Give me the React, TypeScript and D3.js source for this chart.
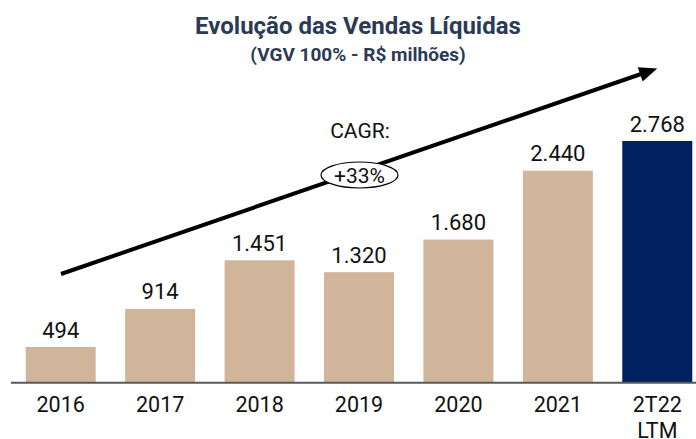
import React from "react";
import * as d3 from "d3";

const categories = ["2016", "2017", "2018", "2019", "2020", "2021", "2T22|LTM"];
const values = [494, 914, 1451, 1320, 1680, 2440, 2768];
const highlight = [false, false, false, false, false, false, true];
const titleText = "Evolução das Vendas Líquidas";
const subtitleText = "(VGV 100% - R$ milhões)";
const cagrLabel = "CAGR:";
const cagrValue = "+33%";

const W = 696;
const H = 439;
const FONT = "Roboto, 'Noto Sans', sans-serif";

const fmt = d3.formatLocale({ decimal: ",", thousands: ".", grouping: [3], currency: ["R$", ""] }).format(",d");

export default function App() {
  const baseY = 382.7;
  const x = d3
    .scaleBand<string>()
    .domain(categories)
    .range([11, 707])
    .paddingInner(0.296)
    .paddingOuter(0.148);
  const y = d3.scaleLinear().domain([100, 2768]).range([baseY, 141]);

  const arrowStart: [number, number] = [61, 274];
  const arrowEnd: [number, number] = [644, 73];
  const ang = Math.atan2(arrowEnd[1] - arrowStart[1], arrowEnd[0] - arrowStart[0]);
  const tip: [number, number] = [arrowEnd[0] + 14 * Math.cos(ang), arrowEnd[1] + 14 * Math.sin(ang)];
  const perp = ang + Math.PI / 2;
  const hw = 7.5;
  const back: [number, number] = [arrowEnd[0] - 4 * Math.cos(ang), arrowEnd[1] - 4 * Math.sin(ang)];
  const headPts = [
    tip,
    [back[0] + hw * Math.cos(perp), back[1] + hw * Math.sin(perp)],
    [back[0] - hw * Math.cos(perp), back[1] - hw * Math.sin(perp)],
  ];

  return (
    <svg width={W} height={H} style={{ position: "absolute", left: 0, top: 0, background: "#fff" }} fontFamily={FONT}>
      <rect x={0} y={0} width={W} height={H} fill="#fff" />
      <text x={358} y={34} textAnchor="middle" fontSize={24} fontWeight="bold" fill="#2B3A55">
        {titleText}
      </text>
      <text x={358} y={61} textAnchor="middle" fontSize={19} fontWeight="bold" fill="#2B3A55">
        {subtitleText}
      </text>

      {categories.map((c, i) => (
        <rect
          key={c}
          x={x(c)}
          y={y(values[i])}
          width={x.bandwidth()}
          height={baseY - y(values[i])}
          fill={highlight[i] ? "#002060" : "#D1B59A"}
        />
      ))}
      {categories.map((c, i) => (
        <text
          key={"v" + c}
          x={(x(c) as number) + x.bandwidth() / 2}
          y={y(values[i]) - 9.5}
          textAnchor="middle"
          fontSize={22}
          fill="#111"
        >
          {fmt(values[i])}
        </text>
      ))}

      <line x1={11} x2={W} y1={baseY} y2={baseY} stroke="#595959" strokeWidth={2} />

      {categories.map((c) => {
        const lines = c.split("|");
        return (
          <text
            key={"x" + c}
            x={(x(c) as number) + x.bandwidth() / 2}
            y={411.5}
            textAnchor="middle"
            fontSize={21.5}
            fill="#111"
          >
            {lines.map((l, j) => (
              <tspan key={j} x={(x(c) as number) + x.bandwidth() / 2} dy={j === 0 ? 0 : 26}>
                {l}
              </tspan>
            ))}
          </text>
        );
      })}

      <line
        x1={arrowStart[0]}
        y1={arrowStart[1]}
        x2={arrowEnd[0]}
        y2={arrowEnd[1]}
        stroke="#000"
        strokeWidth={4}
      />
      <polygon points={headPts.map((p) => p.join(",")).join(" ")} fill="#000" />

      <text x={360} y={138} textAnchor="middle" fontSize={21} fill="#111">
        {cagrLabel}
      </text>
      <ellipse cx={359.5} cy={175} rx={38.5} ry={13} fill="#fff" stroke="#000" strokeWidth={1.2} />
      <text x={359.5} y={182.5} textAnchor="middle" fontSize={21} fill="#111">
        {cagrValue}
      </text>
    </svg>
  );
}
